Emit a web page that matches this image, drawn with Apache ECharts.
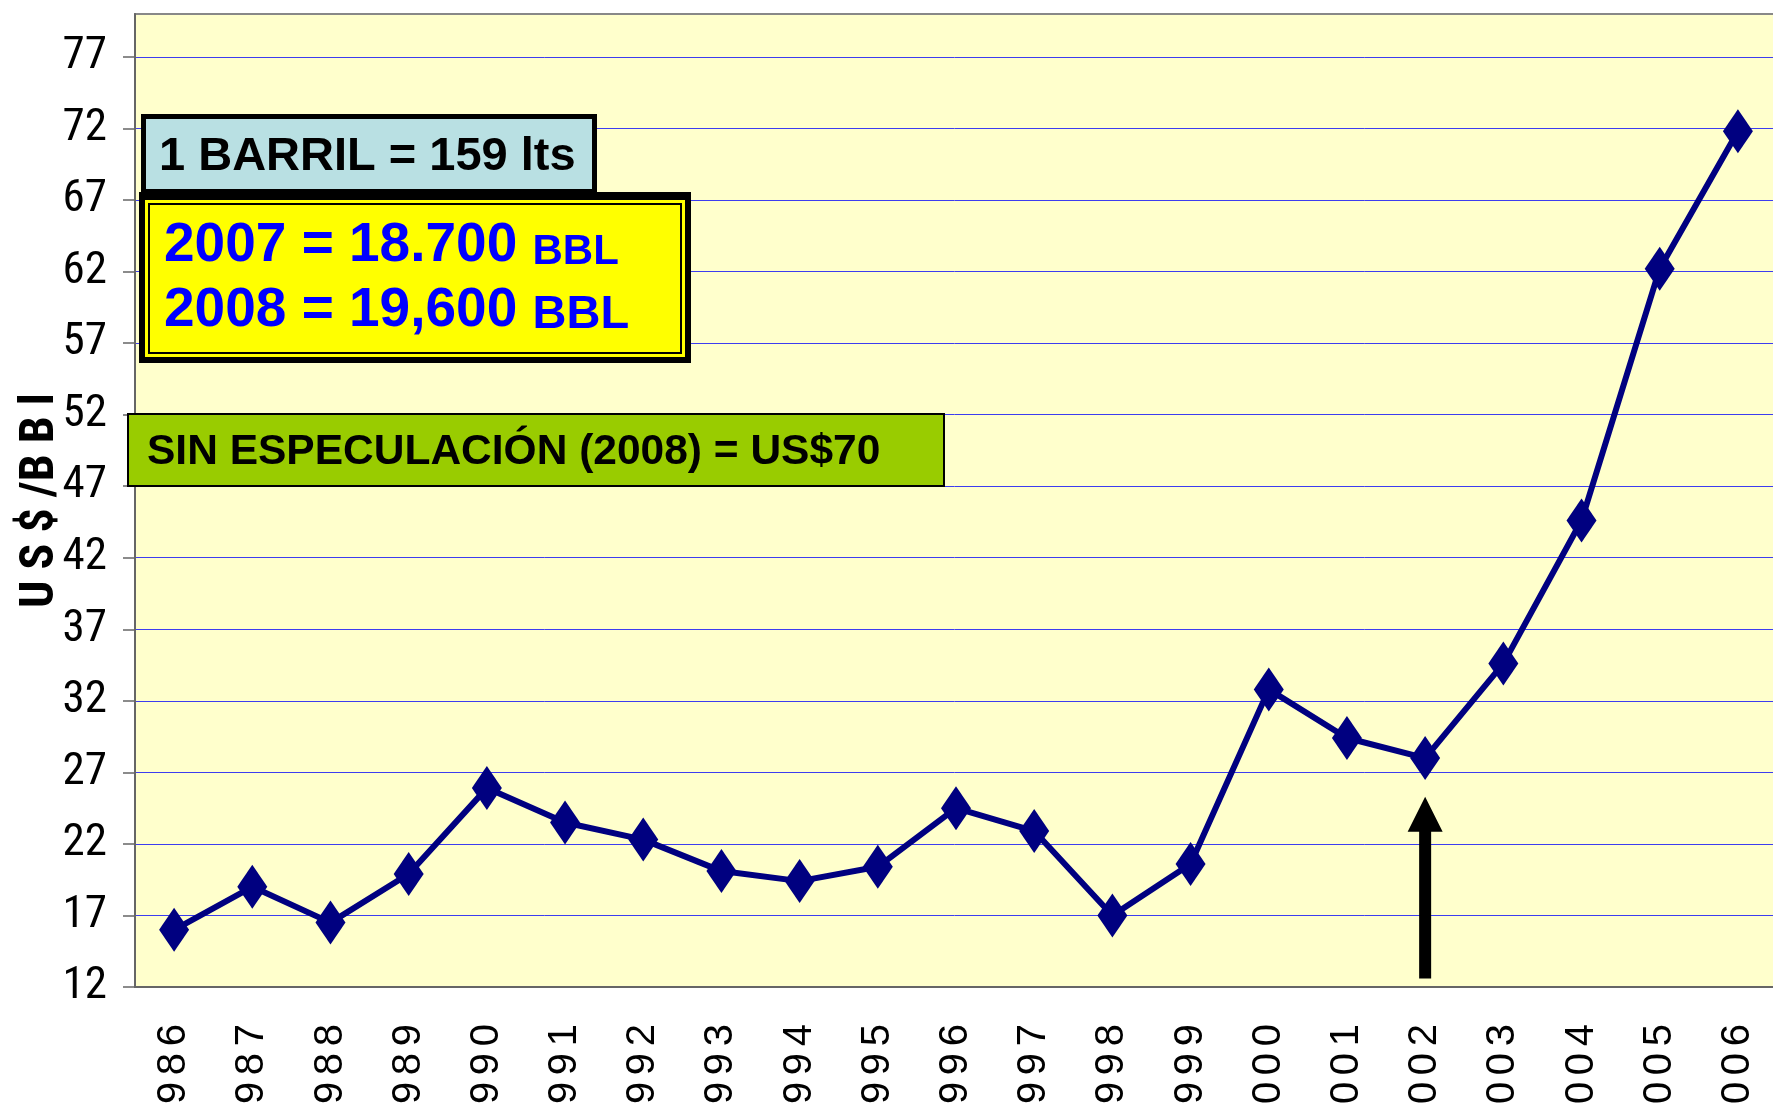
<!DOCTYPE html>
<html lang="es">
<head>
<meta charset="UTF-8">
<title>Precio del barril US$/BBl 1986-2006</title>
<script src="https://cdn.jsdelivr.net/npm/echarts@6/dist/echarts.min.js"></script>
<style>
html, body { margin: 0; padding: 0; background: #fff; }
#main { width: 1773px; height: 1107px; }
</style>
</head>
<body>
<div id="main"></div>
<script>
// datos
var years = ['1986', '1987', '1988', '1989', '1990', '1991', '1992', '1993', '1994', '1995', '1996',
             '1997', '1998', '1999', '2000', '2001', '2002', '2003', '2004', '2005', '2006'];
var prices = [16.0, 19.0, 16.5, 19.9, 25.9, 23.5, 22.3, 20.1, 19.4, 20.4, 24.5,
              22.9, 17.0, 20.6, 32.8, 29.4, 28.0, 34.6, 44.6, 62.2, 71.8];
var yMin = 12, yMax = 80, yStep = 5;
// flecha que marca 2002
var arrowYear = '2002';
var arrowFrom = 12.6, arrowTo = 25.3;

var narrow = "'Roboto Condensed', 'DejaVu Sans Condensed', sans-serif";
var sans = "'Liberation Sans', Arial, sans-serif";

var myChart = echarts.init(document.getElementById('main'));

var option = {
    animation: false,
    backgroundColor: '#fff',
    grid: {
        left: 135, top: 14, width: 1642, height: 973,
        outerBoundsMode: 'none',
        containLabel: false,
        show: true, backgroundColor: '#FFFFCC', borderColor: '#888', borderWidth: 2
    },
    xAxis: {
        type: 'category',
        data: years,
        boundaryGap: true,
        axisLine: { lineStyle: { color: '#666', width: 2 } },
        axisTick: { length: 12, lineStyle: { color: '#666', width: 1.5 } },
        axisLabel: {
            rotate: 90, margin: 37, color: '#000', fontFamily: sans, fontSize: 40, interval: 0,
            // un poco de espacio entre cifras
            formatter: function (v) { return v.split('').join('\u200A\u200A'); }
        },
        splitLine: { show: false }
    },
    yAxis: {
        type: 'value',
        min: yMin, max: yMax, interval: yStep,
        name: 'U S $ /B B l',
        nameLocation: 'middle',
        nameRotate: 90,
        nameGap: 70,
        nameMoveOverlap: false,
        nameTextStyle: { color: '#000', fontFamily: narrow, fontWeight: 'bold', fontSize: 48 },
        axisLine: { show: true, lineStyle: { color: '#666', width: 2 } },
        axisTick: { show: true, length: 12, lineStyle: { color: '#666', width: 1.5 } },
        axisLabel: {
            margin: 28, color: '#000', fontFamily: narrow, fontSize: 45, showMaxLabel: false,
            formatter: function (v) { return v === yMax ? '' : v; }
        },
        splitLine: { showMinLine: false, showMaxLine: false, lineStyle: { color: '#3c3cf0', width: 1 } }
    },
    series: [{
        name: 'US$/BBl',
        type: 'line',
        data: prices,
        symbol: 'diamond',
        symbolSize: [30, 44],
        lineStyle: { color: '#000080', width: 6 },
        itemStyle: { color: '#000080' },
        z: 5
    }],
    graphic: [
        // 1 barril
        {
            type: 'rect', id: 'boxBarril', z: 100,
            shape: { x: 143.5, y: 116.5, width: 451, height: 75 },
            style: { fill: '#B9E0E3', stroke: '#000', lineWidth: 5 }
        },
        {
            type: 'text', id: 'txtBarril', z: 101,
            style: { x: 159, y: 157, text: '1 BARRIL = 159 lts', fill: '#000', font: 'bold 47px ' + sans, verticalAlign: 'middle' }
        },
        // consumo
        {
            type: 'rect', id: 'boxBBLout', z: 100,
            shape: { x: 139, y: 192, width: 552, height: 171 },
            style: { fill: '#000' }
        },
        {
            type: 'rect', id: 'boxBBLin', z: 101,
            shape: { x: 145, y: 200, width: 540, height: 157 },
            style: { fill: '#FFFF00' }
        },
        {
            type: 'rect', id: 'boxBBLline', z: 102,
            shape: { x: 149, y: 204, width: 532, height: 149 },
            style: { fill: '#FFFF00', stroke: '#000', lineWidth: 2 }
        },
        {
            type: 'text', id: 'txt2007', z: 103,
            style: {
                x: 164, y: 246, verticalAlign: 'middle',
                text: '{a|2007 = 18.700 }{b|BBL}',
                rich: {
                    a: { fontFamily: sans, fontWeight: 'bold', fontSize: 55, lineHeight: 55, fill: '#0000FF', verticalAlign: 'bottom' },
                    b: { fontFamily: sans, fontWeight: 'bold', fontSize: 42, lineHeight: 42, fill: '#0000FF', verticalAlign: 'bottom' }
                }
            }
        },
        {
            type: 'text', id: 'txt2008', z: 103,
            style: {
                x: 164, y: 311, verticalAlign: 'middle',
                text: '{a|2008 = 19,600 }{b|BBL}',
                rich: {
                    a: { fontFamily: sans, fontWeight: 'bold', fontSize: 55, lineHeight: 55, fill: '#0000FF', verticalAlign: 'bottom' },
                    b: { fontFamily: sans, fontWeight: 'bold', fontSize: 47, lineHeight: 47, fill: '#0000FF', verticalAlign: 'bottom' }
                }
            }
        },
        // sin especulacion
        {
            type: 'rect', id: 'boxSin', z: 100,
            shape: { x: 128, y: 414, width: 816, height: 72 },
            style: { fill: '#99CC00', stroke: '#000', lineWidth: 2 }
        },
        {
            type: 'text', id: 'txtSin', z: 101,
            style: { x: 147, y: 452, text: 'SIN ESPECULACIÓN (2008) = US$70', fill: '#000', font: 'bold 42.5px ' + sans, verticalAlign: 'middle' }
        }
    ]
};

myChart.setOption(option);

// flecha negra bajo el punto de 2002
var tip = myChart.convertToPixel({ gridIndex: 0 }, [arrowYear, arrowTo]);
var base = myChart.convertToPixel({ gridIndex: 0 }, [arrowYear, arrowFrom]);
var ax = tip[0], head = 35, hw = 17.5, sw = 6;
myChart.setOption({
    graphic: [{
        type: 'polygon', id: 'arrow', z: 50,
        shape: {
            points: [
                [ax, tip[1]], [ax + hw, tip[1] + head], [ax + sw, tip[1] + head], [ax + sw, base[1]],
                [ax - sw, base[1]], [ax - sw, tip[1] + head], [ax - hw, tip[1] + head]
            ]
        },
        style: { fill: '#000' }
    }]
});
</script>
</body>
</html>
